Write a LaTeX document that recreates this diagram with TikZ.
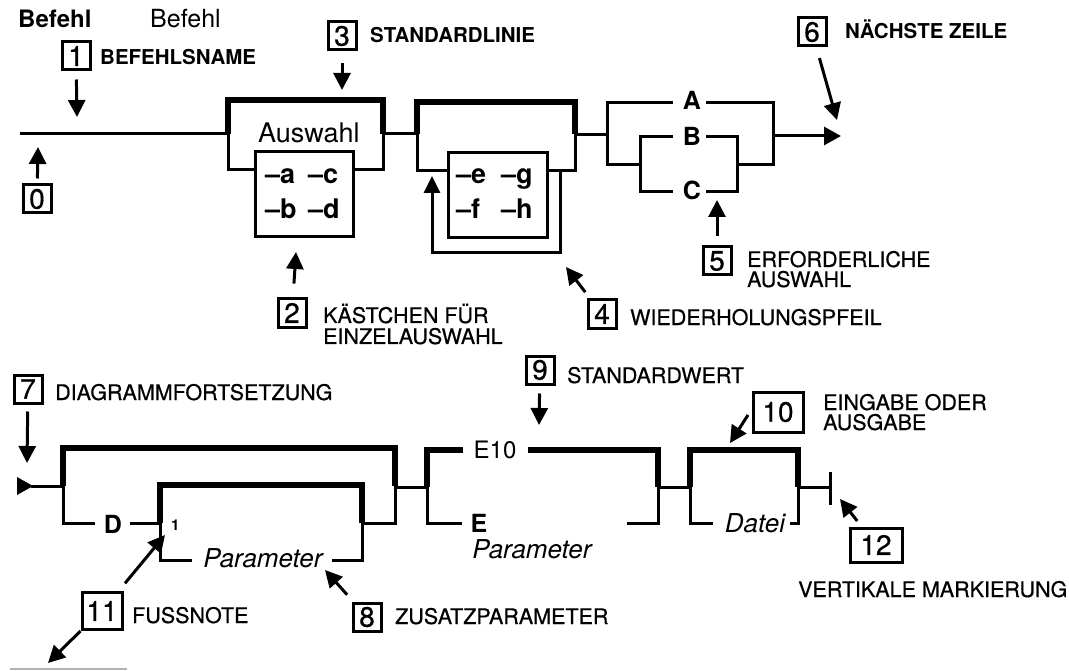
\documentclass[tikz,border=0pt]{standalone}
\usepackage{fontspec}
\setmainfont{TeX Gyre Heros}
\newfontface\medfont{TeX Gyre Heros}[FakeBold=0.6]
\usetikzlibrary{arrows.meta}
\begin{document}
\begin{tikzpicture}[x=1pt,y=-1pt,
  thn/.style={line width=3pt},
  thk/.style={line width=5.5pt},
  arr/.style={line width=3pt,-{Triangle[length=17pt,width=17pt]}},
  numbox/.style={draw,line width=3pt,minimum width=28pt,minimum height=28pt,inner sep=1pt,font=\fontsize{28}{28}\medfont},
  lab/.style={anchor=base west,inner sep=0pt,font=\fontsize{21.5}{21.5}\medfont},
  labb/.style={anchor=base west,inner sep=0pt,font=\fontsize{20.5}{21}\selectfont\bfseries},
  itm/.style={anchor=base west,inner sep=0pt,font=\fontsize{27}{27}\selectfont\bfseries},
  opt/.style={anchor=base,inner sep=0pt,font=\fontsize{25}{25}\selectfont\bfseries},
  prm/.style={anchor=base,inner sep=0pt,font=\fontsize{26}{26}\selectfont\itshape},
]
\useasboundingbox (0,0) rectangle (1069,671);

% ---------- headings ----------
\node[anchor=base west,inner sep=0pt,font=\fontsize{24}{24}\selectfont\bfseries] (h1) at (18,28) {Befehl};
\node[anchor=base west,inner sep=0pt,font=\fontsize{25}{25}\selectfont] (h2) at (150,28) {Befehl};

% ---------- number boxes ----------
\node[numbox] (b0) at (37,199) {0};
\node[numbox] (b1) at (76,56) {1};
\node[numbox] (b2) at (292,313) {2};
\node[numbox] (b3) at (342,36) {3};
\node[numbox] (b4) at (602,314) {4};
\node[numbox] (b5) at (717,261) {5};
\node[numbox] (b6) at (812,32) {6};
\node[numbox] (b7) at (28,389) {7};
\node[numbox] (b8) at (367,617) {8};
\node[numbox] (b9) at (540,370) {9};
\node[numbox,minimum width=50pt,minimum height=40pt] (b10) at (778,412) {10};
\node[numbox,minimum width=40pt,minimum height=37pt] (b11) at (102,611) {11};
\node[numbox,minimum width=52pt,minimum height=34pt] (b12) at (876,545) {12};

% ---------- labels ----------
\node[labb] (l1) at (100,65) {BEFEHLSNAME};
\node[labb] (l3) at (370,43) {STANDARDLINIE};
\node[labb] (l6) at (845,39) {NÄCHSTE ZEILE};
\node[lab] (l5a) at (747,267) {ERFORDERLICHE};
\node[lab] (l5b) at (747,287) {AUSWAHL};
\node[lab] (l2a) at (323,323) {KÄSTCHEN FÜR};
\node[lab] (l2b) at (323,344) {EINZELAUSWAHL};
\node[lab] (l4) at (630,325) {WIEDERHOLUNGSPFEIL};
\node[lab] (l7) at (55,400) {DIAGRAMMFORTSETZUNG};
\node[lab] (l9) at (567,383) {STANDARDWERT};
\node[lab] (l10a) at (823,410) {EINGABE ODER};
\node[lab] (l10b) at (823,430) {AUSGABE};
\node[lab] (l11) at (132,623) {FUSSNOTE};
\node[lab] (l8) at (395,624) {ZUSATZPARAMETER};
\node[lab] (l12) at (798,597) {VERTIKALE MARKIERUNG};

% ---------- top diagram ----------
\coordinate (m0) at (20,134);
\coordinate (g1l) at (228,134);
\draw[thn] (m0) -- (g1l);
\draw[thk] (g1l) -- (228,100) -- (383,100) -- (383,134);
\draw[thn] (g1l) -- (228,170) -- (255,170);
\draw[thn] (353,170) -- (383,170) -- (383,134);
\node[anchor=base west,inner sep=0pt,font=\fontsize{27}{27}\selectfont] (auswahl) at (258,143) {Auswahl};
\node[draw,line width=3pt,minimum width=98pt,minimum height=85pt,inner sep=0pt] (boxad) at (304,194.5) {};
\node[itm] (ia) at (265,184) {–a};
\node[itm] (ic) at (308,184) {–c};
\node[itm] (ib) at (265,219) {–b};
\node[itm] (id) at (308,219) {–d};

\draw[thn] (383,134) -- (417,134);
\draw[thk] (417,134) -- (417,102) -- (575,102) -- (575,134);
\draw[thn] (417,134) -- (417,171) -- (448,171);
\draw[thn] (547,171) -- (575,171) -- (575,134);
\node[draw,line width=3pt,minimum width=99pt,minimum height=85pt,inner sep=0pt] (boxeh) at (497.5,195.5) {};
\node[itm] (ie) at (456,184) {–e};
\node[itm] (ig) at (501,184) {–g};
\node[itm] (if) at (456,219) {–f};
\node[itm] (ih) at (501,219) {–h};
\coordinate (rp0) at (560,171);
\coordinate (rp1) at (432,176);
\draw[thn,-{Triangle[length=17pt,width=16pt]}] (rp0) -- (560,253) -- (432,253) -- (rp1);

\draw[thn] (575,135) -- (607,135);
\node[opt] (oA) at (692,110) {A};
\node[opt] (oB) at (692,146) {B};
\node[opt] (oC) at (692,200) {C};
\draw[thn] (673,103) -- (607,103) -- (607,165) -- (640,165);
\draw[thn] (706,103) -- (773,103) -- (773,165) -- (737,165);
\draw[thn] (673,137) -- (640,137) -- (640,192) -- (673,192);
\draw[thn] (706,137) -- (737,137) -- (737,192) -- (706,192);
\coordinate (end1) at (841,136);
\draw[thn,-{Triangle[length=17pt,width=18pt]}] (773,136) -- (end1);

% ---------- bottom diagram ----------
\fill (17,477) -- (33,486) -- (17,495) -- cycle;
\draw[thn] (31,486) -- (63,486);
\draw[thk] (63,486) -- (63,448) -- (395,448) -- (395,486);
\draw[thn] (63,486) -- (63,523) -- (95,523);
\node[opt] (oD) at (113,533) {D};
\draw[thn] (130,523) -- (160,523);
\draw[thk] (160,523) -- (160,485) -- (362,485) -- (362,523);
\draw[thn] (160,523) -- (160,560) -- (192,560);
\draw[thn] (332,560) -- (362,560) -- (362,523) -- (395,523) -- (395,486);
\node[anchor=base west,inner sep=0pt,font=\fontsize{15}{15}\selectfont\bfseries] (fn1) at (171,530) {1};
\node[prm] (par1) at (263,567) {Parameter};

\draw[thn] (395,487) -- (427,487);
\draw[thk] (427,487) -- (427,450) -- (463,450);
\node[anchor=base,inner sep=0pt,font=\fontsize{24}{24}\selectfont] (e10) at (495,458) {E10};
\draw[thk] (528,450) -- (658,450) -- (658,487);
\draw[thn] (427,487) -- (427,523) -- (462,523);
\node[opt] (oE) at (479,532) {E};
\node[prm] (par2) at (532,558) {Parameter};
\draw[thn] (627,523) -- (658,523) -- (658,487);

\draw[thn] (658,487) -- (690,487);
\draw[thk] (690,487) -- (690,450) -- (798,450) -- (798,487);
\draw[thn] (690,487) -- (690,523) -- (713,523);
\node[prm] (datei) at (755,532) {Datei};
\draw[thn] (790,523) -- (798,523) -- (798,487);
\coordinate (vb) at (830,487);
\draw[thn] (798,487) -- (vb);
\draw[line width=3pt] (830,472) -- (830,505);

\draw[gray!60,line width=1.2pt] (10,669) -- (127,669);

% ---------- pointer arrows ----------
\coordinate (t0) at (38,147);
\coordinate (t1) at (77,117);
\coordinate (t2) at (296,252);
\coordinate (t3) at (342,90);
\coordinate (t4) at (566,267);
\coordinate (t5) at (717,200);
\coordinate (t6) at (837,120);
\coordinate (t7) at (27,463);
\coordinate (t8) at (325,570);
\coordinate (t9) at (539,425);
\coordinate (s10) at (748,415);
\coordinate (t10) at (730,443);
\coordinate (t11) at (165,535);
\coordinate (t11b) at (48,663);
\coordinate (t12) at (840,499);

\draw[arr,shorten <=5pt] (b0) -- (t0);
\draw[arr,shorten <=8pt] (b1) -- (t1);
\draw[arr,shorten <=14pt] (b2) -- (t2);
\draw[arr,shorten <=12pt] (b3) -- (t3);
\draw[arr,shorten <=8pt] (b4) -- (t4);
\draw[arr,shorten <=9pt] (b5) -- (t5);
\draw[arr,shorten <=11pt] (b6) -- (t6);
\draw[arr,shorten <=7pt] (b7) -- (t7);
\draw[arr,shorten <=9pt] (b8) -- (t8);
\draw[arr,shorten <=8pt] (b9) -- (t9);
\draw[arr] (s10) -- (t10);
\draw[arr,shorten <=10pt] (b11) -- (t11);
\draw[arr] (b11.south west) -- (t11b);
\draw[arr,shorten <=7pt] (b12) -- (t12);
\end{tikzpicture}
\end{document}
